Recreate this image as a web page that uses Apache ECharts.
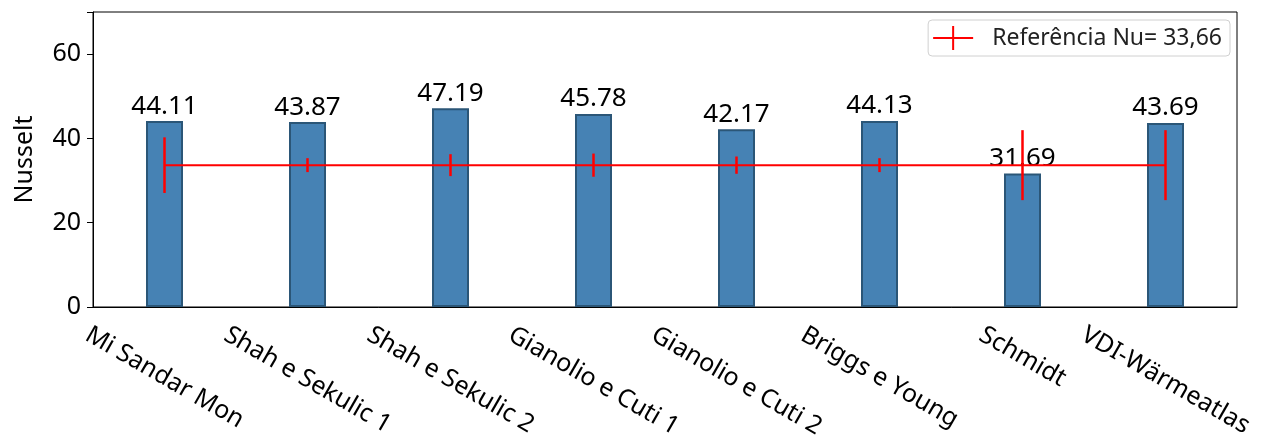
<!DOCTYPE html>
<html>
<head>
<meta charset="utf-8">
<script src="https://cdn.jsdelivr.net/npm/echarts@6/dist/echarts.min.js"></script>
<style>
    html, body { margin: 0; padding: 0; background: #fff; }
    #nusselt-chart { width: 1266px; height: 442px; }
</style>
</head>
<body>
<div id="nusselt-chart"></div>
<script>
    var categories = ['Mi Sandar Mon', 'Shah e Sekulic 1', 'Shah e Sekulic 2', 'Gianolio e Cuti 1',
        'Gianolio e Cuti 2', 'Briggs e Young', 'Schmidt', 'VDI-Wärmeatlas'];
    var nusselt = [44.11, 43.87, 47.19, 45.78, 42.17, 44.13, 31.69, 43.69];
    var refValue = 33.66;
    var refName = 'Referência Nu= 33,66';
    var refErr = [6.6, 1.65, 2.6, 2.75, 2.05, 1.65, 8.3, 8.3];
    var yTicks = [0, 20, 40, 60];

    var fontFamily = '"Noto Sans", sans-serif';
    var labelSize = 25;
    var labelLine = 30;

    // matplotlib centres the rotated (-30deg) label box under the tick, echarts
    // rotates around the anchor -> shift every label with its own padding
    var ctx = document.createElement('canvas').getContext('2d');
    ctx.font = labelSize + 'px "Noto Sans"';
    var xData = categories.map(function (name) {
        var w = ctx.measureText(name).width;
        var B = 0.2165 * w + 0.375 * labelLine;
        return {
            value: name,
            textStyle: {
                align: 'center',
                verticalAlign: 'top',
                lineHeight: labelLine,
                padding: [B - labelLine / 2, 0, 0, 2 * 0.577 * B]
            }
        };
    });

    var chart = echarts.init(document.getElementById('nusselt-chart'));
    var option = {
        animation: false,
        textStyle: { fontFamily: fontFamily },
        grid: {
            left: 93,
            right: 29,
            top: 12,
            bottom: 135,
            outerBoundsMode: 'none',
            containLabel: false,
            show: true,
            borderColor: '#000',
            borderWidth: 1
        },
        legend: {
            data: [{
                name: refName,
                icon: 'path://M0,11H19V0H21V11H40V13H21V24H19V13H0Z'
            }],
            right: 36,
            top: 20,
            itemWidth: 40,
            itemHeight: 24,
            padding: [6, 8, 6, 5],
            borderColor: '#d0d0d0',
            borderWidth: 1,
            borderRadius: 4,
            textStyle: { fontSize: 23, color: '#222', fontFamily: fontFamily, padding: [0, 0, 0, 14] }
        },
        xAxis: {
            type: 'category',
            data: xData,
            axisLine: { show: true, lineStyle: { color: '#000' } },
            axisTick: { alignWithLabel: true, length: 6, lineStyle: { color: '#000' } },
            axisLabel: {
                interval: 0,
                rotate: -30,
                margin: 13,
                fontSize: labelSize,
                color: '#000'
            }
        },
        yAxis: {
            type: 'value',
            min: 0,
            max: 70,
            interval: 20,
            name: 'Nusselt',
            nameLocation: 'middle',
            nameGap: 56,
            nameTextStyle: { fontSize: 25, color: '#000' },
            axisLine: { show: true, lineStyle: { color: '#000' } },
            axisTick: { show: true, length: 6, lineStyle: { color: '#000' } },
            axisLabel: {
                fontSize: 25,
                color: '#000',
                margin: 12,
                formatter: function (v) { return yTicks.indexOf(v) >= 0 ? v : ''; }
            },
            splitLine: { show: false }
        },
        series: [
            {
                name: 'Nusselt',
                type: 'bar',
                barWidth: 37,
                data: nusselt,
                itemStyle: {
                    color: '#4682b4',
                    borderColor: '#2b5677',
                    borderWidth: 2
                },
                label: {
                    show: true,
                    position: 'top',
                    distance: 2,
                    fontSize: 26,
                    color: '#000',
                    formatter: function (p) { return p.value.toFixed(2); }
                },
                z: 1
            },
            {
                name: refName,
                type: 'line',
                data: categories.map(function () { return refValue; }),
                symbol: 'none',
                lineStyle: { color: '#ff0000', width: 2 },
                itemStyle: { color: '#ff0000' },
                z: 3
            },
            {
                name: 'erro',
                type: 'custom',
                data: refErr.map(function (e, i) { return [i, refValue - e, refValue + e]; }),
                encode: { x: 0, y: [1, 2] },
                renderItem: function (params, api) {
                    var lo = api.coord([api.value(0), api.value(1)]);
                    var hi = api.coord([api.value(0), api.value(2)]);
                    return {
                        type: 'line',
                        shape: { x1: lo[0], y1: lo[1], x2: hi[0], y2: hi[1] },
                        style: { stroke: '#ff0000', lineWidth: 2.5 }
                    };
                },
                z: 4
            }
        ]
    };
    chart.setOption(option);
</script>
</body>
</html>
